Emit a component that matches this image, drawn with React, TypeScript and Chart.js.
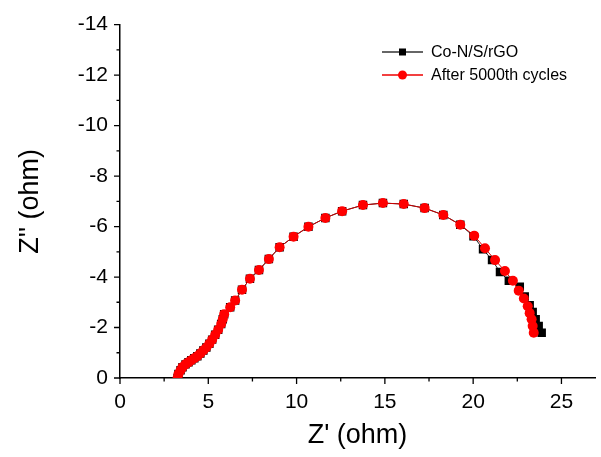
import React, { useEffect, useRef } from "react";
import { Chart, registerables } from "chart.js";

Chart.register(...registerables);

// Co-N/S/rGO (black) and After 5000th cycles (red): Z' (ohm), Z'' (ohm)
const redX = [3.26, 3.31, 3.43, 3.54, 3.71, 3.88, 4.04, 4.21, 4.38, 4.55, 4.72, 4.89, 5.06, 5.22, 5.39, 5.56, 5.73, 5.82, 5.90, 6.24, 6.52, 6.91, 7.36, 7.87, 8.43, 9.04, 9.83, 10.67, 11.63, 12.58, 13.76, 14.89, 16.07, 17.25, 18.31, 19.27, 20.06, 20.67, 21.24, 21.80, 22.25, 22.58, 22.87, 23.09, 23.20, 23.31, 23.37, 23.43];
const redY = [0, -0.16, -0.31, -0.43, -0.54, -0.62, -0.70, -0.78, -0.86, -0.97, -1.09, -1.21, -1.36, -1.52, -1.71, -1.91, -2.14, -2.33, -2.53, -2.80, -3.07, -3.50, -3.93, -4.28, -4.71, -5.18, -5.60, -5.99, -6.34, -6.61, -6.85, -6.93, -6.89, -6.73, -6.46, -6.07, -5.64, -5.14, -4.67, -4.24, -3.85, -3.46, -3.15, -2.84, -2.57, -2.33, -2.06, -1.79];

const blackX = [3.26, 3.31, 3.43, 3.54, 3.71, 3.88, 4.04, 4.21, 4.38, 4.55, 4.72, 4.89, 5.06, 5.22, 5.39, 5.56, 5.73, 5.82, 5.90, 6.24, 6.52, 6.91, 7.36, 7.87, 8.43, 9.04, 9.83, 10.67, 11.63, 12.58, 13.76, 14.89, 16.07, 17.25, 18.31, 19.27, 20.02, 20.56, 21.07, 21.52, 22.02, 22.64, 22.92, 23.20, 23.37, 23.54, 23.71, 23.88];
const blackY = [0, -0.16, -0.31, -0.43, -0.54, -0.62, -0.70, -0.78, -0.86, -0.97, -1.09, -1.21, -1.36, -1.52, -1.71, -1.91, -2.14, -2.33, -2.53, -2.80, -3.07, -3.50, -3.93, -4.28, -4.71, -5.18, -5.60, -5.99, -6.34, -6.61, -6.85, -6.93, -6.89, -6.73, -6.46, -6.07, -5.62, -5.10, -4.67, -4.20, -3.85, -3.62, -3.23, -2.88, -2.61, -2.33, -2.06, -1.79];

const seriesNames = ["Co-N/S/rGO", "After 5000th cycles"];
const xMajorTicks = [0, 5, 10, 15, 20, 25];
const xMinorTicks = [2.5, 7.5, 12.5, 17.5, 22.5];
const yMajorTicks = [0, -2, -4, -6, -8, -10, -12, -14];
const yMinorTicks = [-1, -3, -5, -7, -9, -11, -13];

const FONT = "Arial, 'Liberation Sans', sans-serif";

const toPoints = (xs: number[], ys: number[]) => xs.map((x, i) => ({ x, y: ys[i] }));

const ticksAndLegend = {
  id: "ticksAndLegend",
  afterDraw(chart: any) {
    const ctx = chart.ctx;
    const xs = chart.scales.x;
    const ys = chart.scales.y;
    const area = chart.chartArea;
    ctx.save();
    ctx.strokeStyle = "#000";
    ctx.lineWidth = 1.3;
    ctx.beginPath();
    xMajorTicks.forEach((v) => {
      const px = xs.getPixelForValue(v);
      ctx.moveTo(px, area.bottom);
      ctx.lineTo(px, area.bottom + 6);
    });
    xMinorTicks.forEach((v) => {
      const px = xs.getPixelForValue(v);
      ctx.moveTo(px, area.bottom);
      ctx.lineTo(px, area.bottom + 3.5);
    });
    yMajorTicks.forEach((v) => {
      const py = ys.getPixelForValue(v);
      ctx.moveTo(area.left, py);
      ctx.lineTo(area.left - 6, py);
    });
    yMinorTicks.forEach((v) => {
      const py = ys.getPixelForValue(v);
      ctx.moveTo(area.left, py);
      ctx.lineTo(area.left - 3.5, py);
    });
    ctx.stroke();

    // legend
    const lx0 = 382, lx1 = 423, tx = 431;
    const rows = [
      { y: 52, line: "#333", fill: "#000", shape: "rect" },
      { y: 75, line: "#e00", fill: "#f00", shape: "circle" },
    ];
    rows.forEach((r, i) => {
      ctx.strokeStyle = r.line;
      ctx.lineWidth = 1.5;
      ctx.beginPath();
      ctx.moveTo(lx0, r.y);
      ctx.lineTo(lx1, r.y);
      ctx.stroke();
      const mx = (lx0 + lx1) / 2;
      ctx.fillStyle = r.fill;
      if (r.shape === "rect") {
        ctx.fillRect(mx - 3.5, r.y - 3.5, 7, 7);
      } else {
        ctx.beginPath();
        ctx.arc(mx, r.y, 4.5, 0, Math.PI * 2);
        ctx.fill();
      }
      ctx.fillStyle = "#000";
      ctx.font = `16px ${FONT}`;
      ctx.textAlign = "left";
      ctx.textBaseline = "middle";
      ctx.fillText(seriesNames[i], tx, r.y + 1);
    });
    ctx.restore();
  },
};

export default function App() {
  const ref = useRef<HTMLCanvasElement | null>(null);
  useEffect(() => {
    if (!ref.current) return;
    const chart = new Chart(ref.current, {
      type: "scatter",
      data: {
        datasets: [
          {
            label: seriesNames[0],
            data: toPoints(blackX, blackY),
            showLine: true,
            borderColor: "#222",
            borderWidth: 1,
            backgroundColor: "#000",
            pointStyle: "rect",
            pointRadius: 6,
            pointBorderWidth: 0,
            order: 1,
          },
          {
            label: seriesNames[1],
            data: toPoints(redX, redY),
            showLine: true,
            borderColor: "#c00",
            borderWidth: 1,
            backgroundColor: "#f00",
            pointStyle: "circle",
            pointRadius: 5,
            pointBorderWidth: 0,
            order: 0,
          },
        ],
      },
      options: {
        responsive: false,
        animation: false,
        devicePixelRatio: 1,
        layout: { padding: { top: 18, right: 3, left: 0, bottom: 0 } },
        plugins: { legend: { display: false }, tooltip: { enabled: false } },
        scales: {
          x: {
            type: "linear",
            min: 0,
            max: 26.9,
            grid: { display: false, drawTicks: false },
            border: { display: true, color: "#000", width: 1.5 },
            ticks: {
              stepSize: 5,
              includeBounds: false,
              padding: 12,
              color: "#000",
              font: { family: FONT, size: 21 },
            },
            title: {
              display: true,
              text: "Z' (ohm)",
              color: "#000",
              font: { family: FONT, size: 27 },
              padding: { top: 0, bottom: 5 },
            },
            afterFit: (s: any) => {
              s.height = 79;
            },
          },
          y: {
            type: "linear",
            min: -14,
            max: 0,
            reverse: true,
            grid: { display: false, drawTicks: false },
            border: { display: true, color: "#000", width: 1.5 },
            ticks: {
              stepSize: 2,
              padding: 12,
              color: "#000",
              font: { family: FONT, size: 21 },
            },
            title: {
              display: true,
              text: "Z'' (ohm)",
              color: "#000",
              font: { family: FONT, size: 27 },
              padding: { top: 14, bottom: 0 },
            },
            afterFit: (s: any) => {
              s.width = 120;
            },
          },
        },
      },
      plugins: [ticksAndLegend],
    });
    return () => chart.destroy();
  }, []);
  return (
    <div style={{ position: "absolute", left: 0, top: 0, width: 601, height: 457, background: "#fff" }}>
      <canvas ref={ref} width={601} height={457} />
    </div>
  );
}
